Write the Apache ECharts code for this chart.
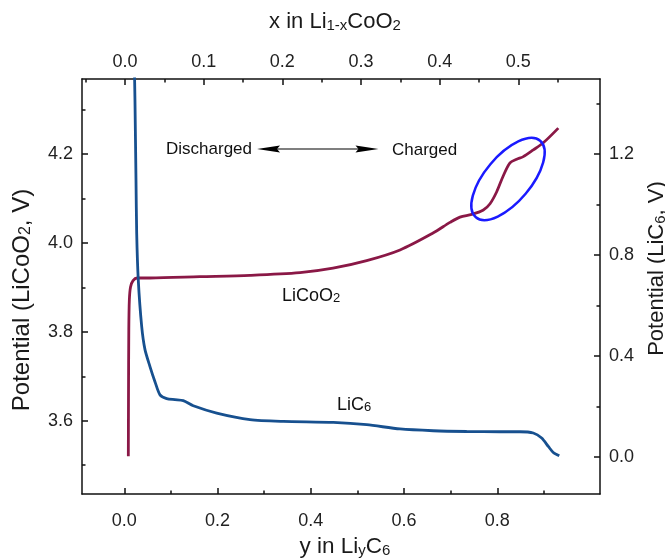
<!DOCTYPE html>
<html><head><meta charset="utf-8">
<script src="https://cdn.jsdelivr.net/npm/echarts@6/dist/echarts.min.js"></script>
<style>html,body{margin:0;padding:0;background:#fff}#c{width:665px;height:558px}</style>
</head><body><div id="c"></div>
<script>
// LiCoO2 curve: x in Li(1-x)CoO2 (top axis) vs potential vs LiCoO2 (left axis)
const licoo2X = [0.0042, 0.0044, 0.0048, 0.0055, 0.0070, 0.0102, 0.0153, 0.0318, 0.0953, 0.1589, 0.2224, 0.2644, 0.3072, 0.3496, 0.3915, 0.4131, 0.4258, 0.4407, 0.4555, 0.4640, 0.4725, 0.4809, 0.4894, 0.4979, 0.5063, 0.5190, 0.5317, 0.5508];
const licoo2V = [3.520, 3.647, 3.805, 3.872, 3.901, 3.915, 3.921, 3.921, 3.924, 3.927, 3.933, 3.943, 3.960, 3.984, 4.022, 4.046, 4.058, 4.064, 4.074, 4.088, 4.115, 4.151, 4.180, 4.188, 4.194, 4.209, 4.225, 4.258];
// LiC6 curve: y in LiyC6 (bottom axis) vs potential vs LiC6 (right axis)
const lic6Y = [0.0215, 0.0229, 0.0251, 0.0266, 0.0300, 0.0373, 0.0444, 0.0551, 0.0658, 0.0766, 0.0909, 0.1087, 0.1265, 0.1480, 0.1982, 0.2696, 0.3410, 0.4483, 0.5199, 0.5913, 0.6627, 0.7344, 0.8058, 0.8487, 0.8772, 0.8952, 0.9094, 0.9201, 0.9330];
const lic6V = [1.56, 1.413, 1.097, 0.886, 0.701, 0.517, 0.425, 0.358, 0.298, 0.246, 0.231, 0.227, 0.223, 0.203, 0.174, 0.148, 0.141, 0.137, 0.128, 0.111, 0.104, 0.101, 0.100, 0.100, 0.095, 0.075, 0.042, 0.018, 0.005];
// ticks
const bottomMajor = [0, 0.2, 0.4, 0.6, 0.8];
const bottomMinor = [0.1, 0.3, 0.5, 0.7, 0.9];
const topMajor = [0, 0.1, 0.2, 0.3, 0.4, 0.5];
const topMinor = [-0.05, 0.05, 0.15, 0.25, 0.35, 0.45, 0.55];
const leftMajor = [3.6, 3.8, 4.0, 4.2];
const leftMinor = [3.5, 3.7, 3.9, 4.1, 4.3];
const rightMajor = [0, 0.4, 0.8, 1.2];
const rightMinor = [0.2, 0.6, 1.0, 1.4];
// axis ranges
const bottomRange = [-0.0907, 1.0203];
const topRange = [-0.0547, 0.6038];
const leftRange = [3.4353, 4.3685];
const rightRange = [-0.1464, 1.4964];

const FONT = 'Liberation Sans, Arial, sans-serif';
const AX = '#111';
const MAROON = '#8a1846';
const BLUE = '#17508f';

function nameStyle(size, subSize, padding) {
  return {
    fontFamily: FONT, fontSize: size, color: '#1a1a1a', padding: padding,
    rich: {
      n: {fontFamily: FONT, fontSize: size, color: '#1a1a1a', lineHeight: size + 2, verticalAlign: 'bottom'},
      s: {fontFamily: FONT, fontSize: subSize, color: '#1a1a1a', lineHeight: 8, verticalAlign: 'bottom'}
    }
  };
}
const lbl = (vals, margin) => ({customValues: vals, margin: margin, fontFamily: FONT, fontSize: 18, color: '#222', formatter: v => (+v).toFixed(1)});

function major(pos, range, ticks, margin, extra) {
  return Object.assign({
    type: 'value', position: pos, min: range[0], max: range[1],
    axisLine: {show: true, onZero: false, lineStyle: {color: AX, width: 1.5}},
    axisTick: {show: true, inside: true, length: 6, customValues: ticks, lineStyle: {color: AX, width: 1.5}},
    axisLabel: lbl(ticks, margin),
    splitLine: {show: false}
  }, extra || {});
}
function minor(pos, range, ticks) {
  return {
    type: 'value', position: pos, min: range[0], max: range[1],
    axisLine: {show: false, onZero: false},
    axisTick: {show: true, inside: true, length: 3.5, customValues: ticks, lineStyle: {color: AX, width: 1.5}},
    axisLabel: {show: false},
    splitLine: {show: false}
  };
}

const chart = echarts.init(document.getElementById('c'), null, {renderer: 'canvas'});
chart.setOption({
  animation: false,
  backgroundColor: '#fff',
  grid: {left: 82, top: 79, width: 518, height: 415, containLabel: false, outerBoundsMode: 'none'},
  xAxis: [
    major('bottom', bottomRange, bottomMajor, 18, {name: '{n|y in Li}{s|y}{n|C}{s|6}', nameLocation: 'middle', nameGap: 40, nameTextStyle: nameStyle(22.5, 15, [0, 0, 0, 8])}),
    major('top', topRange, topMajor, 8, {name: '{n|x in Li}{s|1-x}{n|CoO}{s|2}', nameLocation: 'middle', nameGap: 46, nameTextStyle: nameStyle(22, 15, [0, 12, 0, 0])}),
    minor('bottom', bottomRange, bottomMinor),
    minor('top', topRange, topMinor)
  ],
  yAxis: [
    major('left', leftRange, leftMajor, 9, {name: '{n|Potential (LiCoO}{s|2}{n|, V)}', nameLocation: 'middle', nameGap: 48, nameTextStyle: nameStyle(24, 16, [0, 27, 0, 0])}),
    major('right', rightRange, rightMajor, 9, {name: '{n|Potential (LiC}{s|6}{n|, V)}', nameLocation: 'middle', nameGap: 44, nameTextStyle: nameStyle(22, 15, [0, 0, 0, 36])}),
    minor('left', leftRange, leftMinor),
    minor('right', rightRange, rightMinor)
  ],
  series: [
    {type: 'line', name: 'LiCoO2', xAxisIndex: 1, yAxisIndex: 0, showSymbol: false, smooth: 0.3, clip: true,
     data: licoo2X.map((x, i) => [x, licoo2V[i]]), lineStyle: {color: MAROON, width: 2.8}, itemStyle: {color: MAROON}},
    {type: 'line', name: 'LiC6', xAxisIndex: 0, yAxisIndex: 1, showSymbol: false, smooth: 0.25, clip: true,
     data: lic6Y.map((y, i) => [y, lic6V[i]]), lineStyle: {color: BLUE, width: 2.8}, itemStyle: {color: BLUE}}
  ],
  graphic: [
    {type: 'text', x: 252, y: 149, style: {text: 'Discharged', fontFamily: FONT, fontSize: 17, fill: '#111', align: 'right', verticalAlign: 'middle'}},
    {type: 'text', x: 392, y: 150, style: {text: 'Charged', fontFamily: FONT, fontSize: 17, fill: '#111', align: 'left', verticalAlign: 'middle'}},
    {type: 'line', shape: {x1: 272, y1: 149, x2: 362, y2: 149}, style: {stroke: '#000', lineWidth: 1.2}},
    {type: 'polygon', shape: {points: [[257, 149], [280, 145.5], [277, 149], [280, 152.5]]}, style: {fill: '#000'}},
    {type: 'polygon', shape: {points: [[378.5, 149], [355.5, 145.5], [358.5, 149], [355.5, 152.5]]}, style: {fill: '#000'}},
    {type: 'text', x: 282, y: 285, style: {text: '{n|LiCoO}{s|2}', align: 'left', verticalAlign: 'top',
      rich: {n: {fontFamily: FONT, fontSize: 18, fill: '#111', lineHeight: 20, verticalAlign: 'bottom'}, s: {fontFamily: FONT, fontSize: 13, fill: '#111', lineHeight: 6, verticalAlign: 'bottom'}}}},
    {type: 'text', x: 337, y: 394, style: {text: '{n|LiC}{s|6}', align: 'left', verticalAlign: 'top',
      rich: {n: {fontFamily: FONT, fontSize: 18, fill: '#111', lineHeight: 20, verticalAlign: 'bottom'}, s: {fontFamily: FONT, fontSize: 13, fill: '#111', lineHeight: 6, verticalAlign: 'bottom'}}}},
    {type: 'ellipse', x: 508, y: 179, rotation: 50 * Math.PI / 180, shape: {cx: 0, cy: 0, rx: 50, ry: 23}, style: {fill: null, stroke: '#1a1aff', lineWidth: 2.5}, z: 100}
  ]
});
</script>
</body></html>
